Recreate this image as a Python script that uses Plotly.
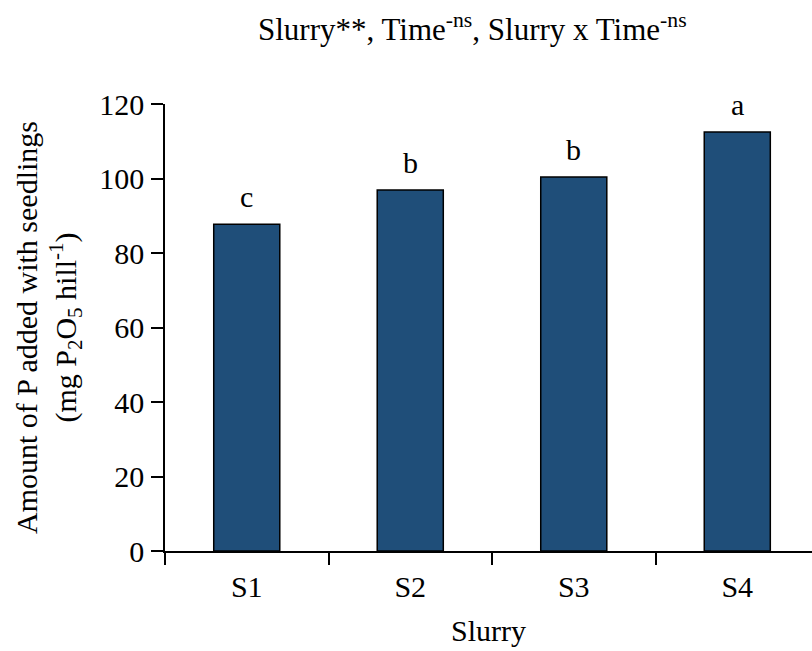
import plotly.graph_objects as go

# Amount of P added with seedlings per slurry treatment
categories = ["S1", "S2", "S3", "S4"]
p_added = [87.7, 96.9, 100.4, 112.5]
letters = ["c", "b", "b", "a"]
y_ticks = [0, 20, 40, 60, 80, 100, 120]

FONT = "Liberation Serif, Times New Roman, serif"
BAR_COLOR = "#1f4e79"

fig = go.Figure()
fig.add_trace(go.Bar(
    x=categories,
    y=p_added,
    marker=dict(color=BAR_COLOR, line=dict(color="black", width=1.5)),
    hoverinfo="x+y",
))

# significance letters above each bar
for cat, val, let in zip(categories, p_added, letters):
    fig.add_annotation(
        x=cat, y=val, text=let, showarrow=False,
        xref="x", yref="y", yanchor="bottom", yshift=9,
        font=dict(family=FONT, size=30, color="black"),
    )

# ANOVA summary title
fig.add_annotation(
    text="Slurry**, Time<sup>-ns</sup>, Slurry x Time<sup>-ns</sup>",
    xref="paper", yref="paper", x=0.4745, y=1.0, yshift=77,
    xanchor="center", yanchor="middle", showarrow=False,
    font=dict(family=FONT, size=31, color="black"),
)

fig.update_layout(
    width=812, height=651,
    margin=dict(l=165, r=0, t=104, b=100),
    paper_bgcolor="white", plot_bgcolor="white",
    showlegend=False,
    bargap=0.596,
    font=dict(family=FONT, size=30, color="black"),
    xaxis=dict(
        type="category",
        range=[-0.5, 3.457],
        tickson="boundaries",
        ticks="outside", ticklen=12, tickwidth=1.5, tickcolor="black",
        ticklabelstandoff=8,
        showline=True, linecolor="black", linewidth=1.5,
        showgrid=False, zeroline=False,
        tickfont=dict(family=FONT, size=30),
        title=dict(text="Slurry", font=dict(family=FONT, size=30), standoff=18),
    ),
    yaxis=dict(
        range=[0, 120],
        tickvals=y_ticks,
        ticks="outside", ticklen=12, tickwidth=1.5, tickcolor="black",
        ticklabelstandoff=1,
        showline=True, linecolor="black", linewidth=1.5,
        showgrid=False, zeroline=False,
        tickfont=dict(family=FONT, size=30),
        title=dict(
            text="Amount of P added with seedlings<br>(mg P<sub>2</sub>O<sub>5</sub> hill<sup>-1</sup>)",
            font=dict(family=FONT, size=30), standoff=14,
        ),
    ),
)

fig.write_html("out.html")
